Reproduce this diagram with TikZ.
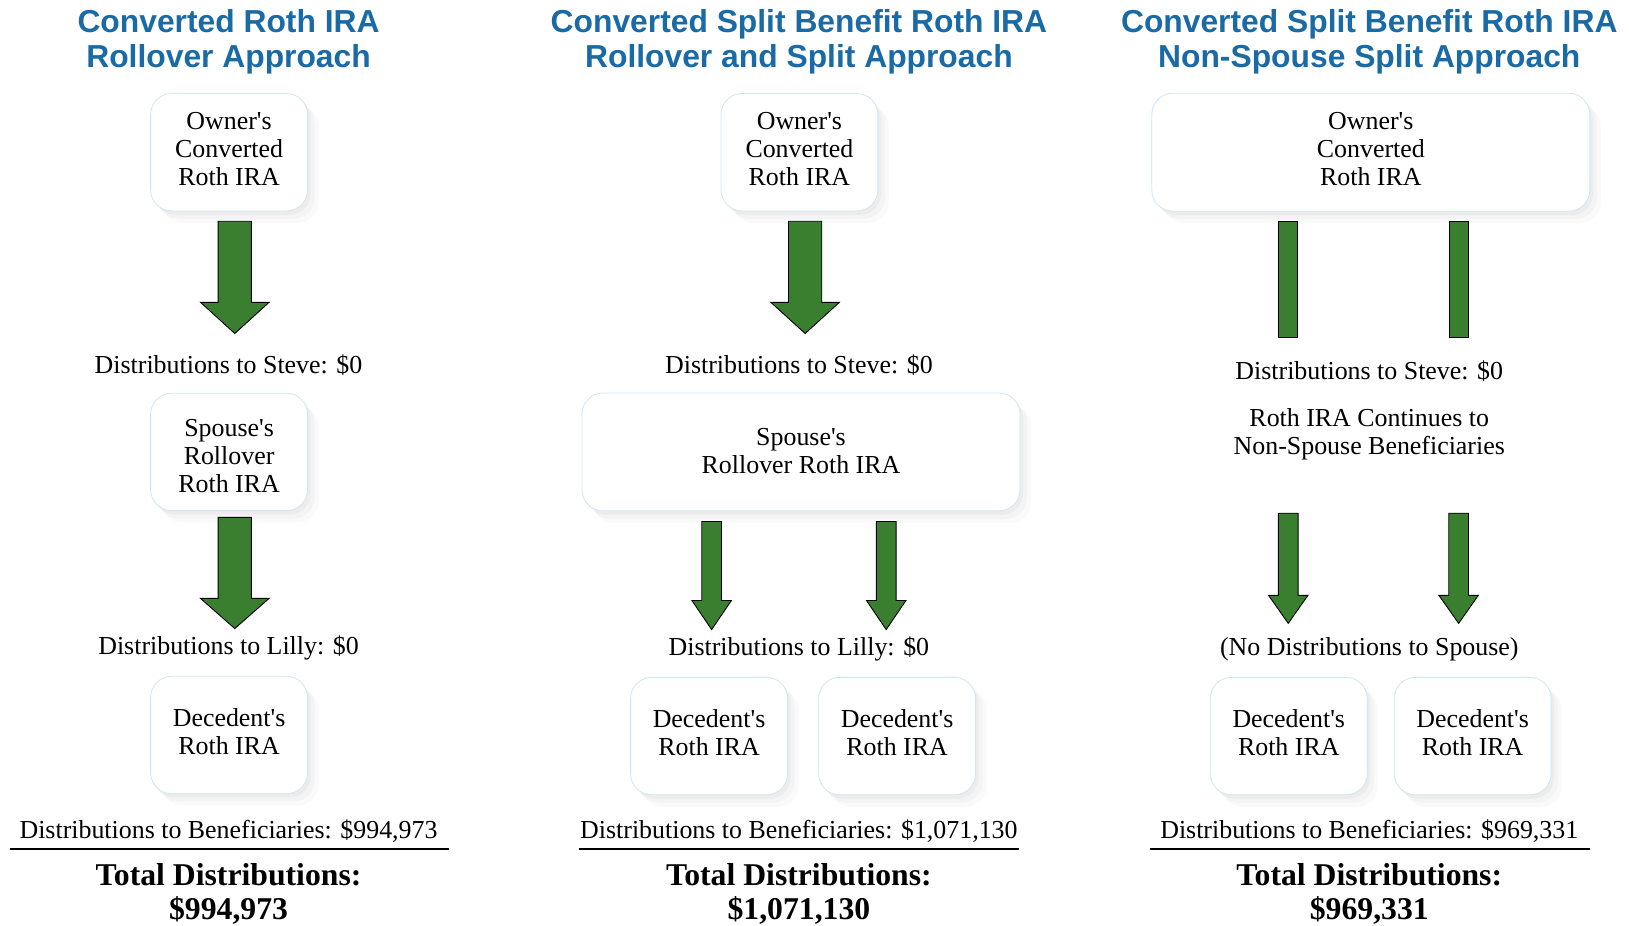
\documentclass[tikz,border=0pt]{standalone}
\usepackage{fontspec}
\setmainfont{Liberation Serif}[Ligatures=TeXOff]
\newfontfamily\titlefont{Liberation Sans}[Ligatures=TeXOff]
\usetikzlibrary{shadows}
\definecolor{titleblue}{HTML}{1A6AA6}
\definecolor{boxline}{HTML}{CFE6F3}
\definecolor{agreen}{HTML}{3A7F2F}
\newcommand\blockarrow[7]{%
  \coordinate (#1) at (#2,#3);
  \draw[garrow] (#2-#6,#3) -- (#2+#6,#3) -- (#2+#6,#4) -- (#2+#7,#4) -- (#2,#5) -- (#2-#7,#4) -- (#2-#6,#4) -- cycle;}
\newcommand\blockbar[5]{%
  \coordinate (#1) at (#2,#3);
  \draw[garrow] (#2-#5,#3) rectangle (#2+#5,#4);}
\tikzset{
  titletxt/.style={font=\titlefont\bfseries\fontsize{31.8}{35.3}\selectfont, text=titleblue, align=center, inner sep=0pt},
  bodytxt/.style={font=\fontsize{25.9}{28}\selectfont, align=center, inner sep=0pt},
  totaltxt/.style={font=\bfseries\fontsize{31.7}{34.3}\selectfont, align=center, inner sep=0pt},
  rbox/.style={draw=boxline, line width=0.8pt, fill=white, rounded corners=21pt, align=center, inner sep=0pt,
    font=\fontsize{25.9}{28}\selectfont, text depth=7pt,
    general shadow={fill=black, opacity=0.02, shadow xshift=11pt, shadow yshift=-12pt},
    general shadow={fill=black, opacity=0.025, shadow xshift=7pt, shadow yshift=-8pt},
    general shadow={fill=black, opacity=0.03, shadow xshift=3pt, shadow yshift=-4pt}},
  smallbox/.style={rbox, minimum width=156.9pt, minimum height=117.4pt},
  widebox/.style={rbox, minimum width=438pt, minimum height=117.9pt},
  garrow/.style={fill=agreen, draw=black, line width=0.9pt, line join=miter},
  rule/.style={line width=1.6pt}
}
\begin{document}
\begin{tikzpicture}[x=1.0389pt,y=-1.0389pt]
\useasboundingbox (0,0) rectangle (1568,891);
% ---------------- column 1
\node[titletxt] (t1) at (220,40) {Converted Roth IRA\\Rollover Approach};
\node[smallbox] (o1) at (220.5,146.5) {Owner's\\Converted\\Roth IRA};
\blockarrow{a1}{226}{213}{291}{321}{16}{33}
\node[bodytxt] (s1) at (220,351) {Distributions to Steve: \$0};
\node[smallbox] (sp1) at (220.5,435) {};
\node[bodytxt] (sp1t) at (220.5,439) {Spouse's\\Rollover\\Roth IRA};
\blockarrow{a2}{226}{498}{576}{605}{16}{33}
\node[bodytxt] (l1) at (220,623.5) {Distributions to Lilly: \$0};
\node[smallbox] (d1) at (220.5,707.5) {Decedent's\\Roth IRA};
\node[bodytxt] (b1) at (220,800) {Distributions to Beneficiaries: \$994,973};
\coordinate (u1l) at (10,817); \coordinate (u1r) at (432,817);
\draw[rule] (u1l) -- (u1r);
\node[totaltxt] (tot1) at (220,860.5) {Total Distributions:\\\$994,973};
% ---------------- column 2
\node[titletxt] (t2) at (769,40) {Converted Split Benefit Roth IRA\\Rollover and Split Approach};
\node[smallbox] (o2) at (769.5,146.5) {Owner's\\Converted\\Roth IRA};
\blockarrow{a3}{775}{213}{291}{321}{16}{33}
\node[bodytxt] (s2) at (769,351) {Distributions to Steve: \$0};
\node[widebox, text depth=3pt] (sp2) at (771,435) {Spouse's\\Rollover Roth IRA};
\blockarrow{a4}{685}{502}{578}{606}{9.5}{19}
\blockarrow{a5}{853}{502}{578}{606}{9.5}{19}
\node[bodytxt] (l2) at (769,625) {Distributions to Lilly: \$0};
\node[smallbox] (d2a) at (682.5,708.5) {Decedent's\\Roth IRA};
\node[smallbox] (d2b) at (863.5,708.5) {Decedent's\\Roth IRA};
\node[bodytxt] (b2) at (769,800) {Distributions to Beneficiaries: \$1,071,130};
\coordinate (u2l) at (557,817); \coordinate (u2r) at (981,817);
\draw[rule] (u2l) -- (u2r);
\node[totaltxt] (tot2) at (769,860.5) {Total Distributions:\\\$1,071,130};
% ---------------- column 3
\node[titletxt] (t3) at (1318,40) {Converted Split Benefit Roth IRA\\Non-Spouse Split Approach};
\node[widebox] (o3) at (1319.5,146.5) {Owner's\\Converted\\Roth IRA};
\blockbar{b3a}{1240}{213}{325}{9}
\blockbar{b3b}{1404}{213}{325}{9}
\node[bodytxt] (s3) at (1318,357) {Distributions to Steve: \$0};
\node[bodytxt] (c3) at (1318,418) {Roth IRA Continues to\\Non-Spouse Beneficiaries};
\blockarrow{a6}{1240}{494}{573}{600}{9.5}{19}
\blockarrow{a7}{1404}{494}{573}{600}{9.5}{19}
\node[bodytxt] (n3) at (1318,625) {(No Distributions to Spouse)};
\node[smallbox] (d3a) at (1240.5,708.5) {Decedent's\\Roth IRA};
\node[smallbox] (d3b) at (1417.5,708.5) {Decedent's\\Roth IRA};
\node[bodytxt] (b3) at (1318,800) {Distributions to Beneficiaries: \$969,331};
\coordinate (u3l) at (1107,817); \coordinate (u3r) at (1530,817);
\draw[rule] (u3l) -- (u3r);
\node[totaltxt] (tot3) at (1318,860.5) {Total Distributions:\\\$969,331};
\end{tikzpicture}
\end{document}
